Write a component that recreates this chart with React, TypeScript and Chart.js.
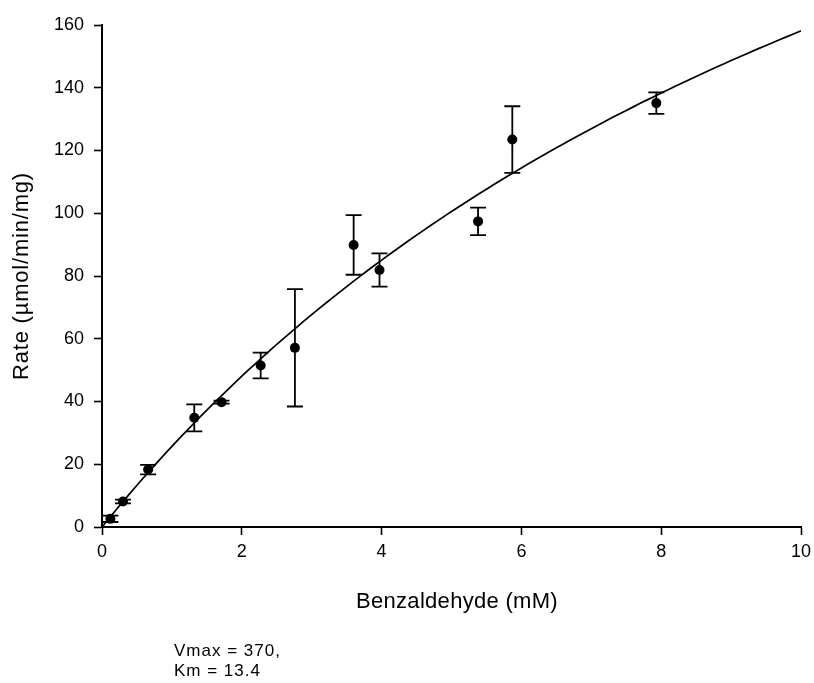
import React, { useEffect, useRef } from "react";
import { Chart, registerables } from "chart.js";

Chart.register(...registerables);

// Substrate concentrations (mM), mean rates and their error (±)
const concentration = [0.12, 0.3, 0.66, 1.32, 1.71, 2.27, 2.76, 3.6, 3.97, 5.38, 5.87, 7.93];
const rate = [2.6, 8.1, 18.3, 34.8, 39.8, 51.5, 57.1, 89.9, 81.9, 97.4, 123.5, 135.1];
const rateError = [1.0, 0.6, 1.5, 4.3, 0.5, 4.1, 18.7, 9.5, 5.3, 4.4, 10.6, 3.4];

// Michaelis–Menten fit parameters
const VMAX = 370;
const KM = 13.4;

const xTicks = [0, 2, 4, 6, 8, 10];
const yTicks = [0, 20, 40, 60, 80, 100, 120, 140, 160];

const xTitle = "Benzaldehyde (mM)";
const yTitle = "Rate (\u00b5mol/min/mg)";
const fitLines = [`Vmax = ${VMAX},`, `Km = ${KM}`];

const FONT = "'Liberation Sans', Arial, sans-serif";

// Fitted curve sampled across the x range
const curveX = Array.from({ length: 101 }, (_, i) => (i * xTicks[xTicks.length - 1]) / 100);
const curve = curveX.map((s) => ({ x: s, y: (VMAX * s) / (KM + s) }));

const errorBars = {
  id: "errorBars",
  beforeDatasetsDraw(chart: any) {
    const { ctx, scales } = chart;
    const xs = scales.x;
    const ys = scales.y;
    ctx.save();
    ctx.strokeStyle = "#000";
    ctx.lineWidth = 1.8;
    const cap = 8;
    concentration.forEach((c, i) => {
      const px = xs.getPixelForValue(c);
      const top = ys.getPixelForValue(rate[i] + rateError[i]);
      const bot = ys.getPixelForValue(rate[i] - rateError[i]);
      ctx.beginPath();
      ctx.moveTo(px, top);
      ctx.lineTo(px, bot);
      ctx.moveTo(px - cap, top);
      ctx.lineTo(px + cap, top);
      ctx.moveTo(px - cap, bot);
      ctx.lineTo(px + cap, bot);
      ctx.stroke();
    });
    ctx.restore();
  },
};

const labels = {
  id: "labels",
  afterDraw(chart: any) {
    const { ctx, chartArea } = chart;
    ctx.save();
    ctx.fillStyle = "#000";
    ctx.font = `22px ${FONT}`;
    ctx.textAlign = "center";
    ctx.textBaseline = "middle";
    (ctx as any).letterSpacing = "0.3px";
    ctx.fillText(xTitle, 457, 602);

    ctx.save();
    (ctx as any).letterSpacing = "0.8px";
    ctx.translate(22, (chartArea.top + chartArea.bottom) / 2);
    ctx.rotate(-Math.PI / 2);
    ctx.fillText(yTitle, 0, 0);
    ctx.restore();

    ctx.font = `17px ${FONT}`;
    (ctx as any).letterSpacing = "1px";
    ctx.textAlign = "left";
    ctx.textBaseline = "alphabetic";
    fitLines.forEach((line, i) => ctx.fillText(line, 174, 656 + i * 20));
    ctx.restore();
  },
};

export default function App() {
  const canvasRef = useRef<HTMLCanvasElement | null>(null);

  useEffect(() => {
    document.body.style.margin = "0";
    const canvas = canvasRef.current;
    if (!canvas) return;
    const chart = new Chart(canvas, {
      type: "scatter",
      data: {
        datasets: [
          {
            label: "fit",
            data: curve,
            showLine: true,
            borderColor: "#000",
            borderWidth: 1.7,
            pointRadius: 0,
            tension: 0,
          },
          {
            label: "rate",
            data: concentration.map((c, i) => ({ x: c, y: rate[i] })),
            showLine: false,
            pointRadius: 5,
            pointBackgroundColor: "#000",
            pointBorderColor: "#000",
            pointBorderWidth: 0,
          },
        ],
      },
      options: {
        responsive: false,
        animation: false,
        layout: { padding: { left: 0, top: 25, right: 13, bottom: 0 } },
        plugins: { legend: { display: false }, tooltip: { enabled: false } },
        scales: {
          x: {
            type: "linear",
            min: xTicks[0],
            max: xTicks[xTicks.length - 1],
            afterFit: (s: any) => {
              s.height = 156;
              s.paddingRight = 0;
              s.paddingLeft = 0;
            },
            afterBuildTicks: (s: any) => {
              s.ticks = xTicks.map((v) => ({ value: v }));
            },
            grid: {
              drawOnChartArea: false,
              drawTicks: true,
              tickLength: 8,
              tickColor: "#000",
              tickWidth: 1.6,
            },
            border: { display: true, color: "#000", width: 2 },
            ticks: { color: "#000", font: { family: FONT, size: 18 }, padding: 6 },
          },
          y: {
            type: "linear",
            min: yTicks[0],
            max: yTicks[yTicks.length - 1],
            afterFit: (s: any) => {
              s.width = 102;
              s.paddingTop = 0;
              s.paddingBottom = 0;
            },
            afterBuildTicks: (s: any) => {
              s.ticks = yTicks.map((v) => ({ value: v }));
            },
            grid: {
              drawOnChartArea: false,
              drawTicks: true,
              tickLength: 8,
              tickColor: "#000",
              tickWidth: 1.6,
            },
            border: { display: true, color: "#000", width: 2 },
            ticks: { color: "#000", font: { family: FONT, size: 18 }, padding: 10 },
          },
        },
      },
      plugins: [errorBars, labels],
    });
    return () => chart.destroy();
  }, []);

  return (
    <div style={{ position: "absolute", left: 0, top: 0, width: 814, height: 683, background: "#fff" }}>
      <canvas ref={canvasRef} width={814} height={683} />
    </div>
  );
}
